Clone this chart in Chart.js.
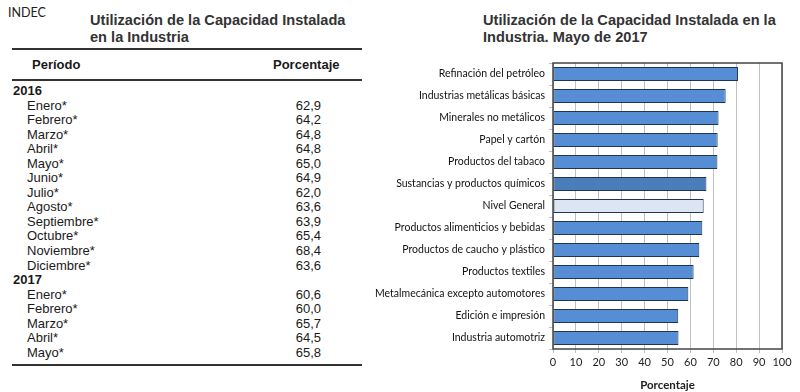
<!DOCTYPE html>
<html><head><meta charset="utf-8">
<script src="https://cdn.jsdelivr.net/npm/chart.js@4.4.1/dist/chart.umd.min.js"></script>
<style>
html,body{margin:0;padding:0;background:#fff;width:800px;height:392px;overflow:hidden;font-family:"Liberation Sans",Arial,sans-serif;color:#1a1a1a}
.abs{position:absolute;white-space:nowrap}
#indec{left:8px;top:5px;font-family:Lato,sans-serif;font-size:12.5px;color:#222}
.title{font-weight:bold;font-size:14.6px;line-height:16.5px;color:#333}
#t1{left:90px;top:12px}
#t2{left:483px;top:12px}
.rule{position:absolute;left:12px;width:350px;background:#333}
#hdr1{left:32px;top:57px;font-weight:bold;font-size:13px}
#hdr2{left:273px;top:57px;font-weight:bold;font-size:13px}
#rows{position:absolute;left:0;top:84px;width:360px;font-size:13px;line-height:14.55px}
.row{position:relative;height:14.55px}
.row .lab{position:absolute;left:27px}
.row .yr{position:absolute;left:13px;font-weight:bold}
.row .val{position:absolute;right:39px}
#chartBox{position:absolute;left:360px;top:0;width:440px;height:392px}
</style></head>
<body>
<div id="indec" class="abs">INDEC</div>
<div id="t1" class="abs title">Utilización de la Capacidad Instalada<br>en la Industria</div>
<div class="rule" style="top:48px;height:2px"></div>
<div id="hdr1" class="abs">Período</div>
<div id="hdr2" class="abs">Porcentaje</div>
<div class="rule" style="top:79px;height:1.5px"></div>
<div id="rows"></div>
<div class="rule" style="top:364px;height:2px"></div>
<div id="t2" class="abs title">Utilización de la Capacidad Instalada en la<br>Industria. Mayo de 2017</div>
<div id="chartBox"><canvas id="c" width="440" height="392"></canvas></div>
<script>
// ---- Table data ----
const years = ['2016', '2017'];
const months2016 = ['Enero*','Febrero*','Marzo*','Abril*','Mayo*','Junio*','Julio*','Agosto*','Septiembre*','Octubre*','Noviembre*','Diciembre*'];
const values2016 = [62.9, 64.2, 64.8, 64.8, 65.0, 64.9, 62.0, 63.6, 63.9, 65.4, 68.4, 63.6];
const months2017 = ['Enero*','Febrero*','Marzo*','Abril*','Mayo*'];
const values2017 = [60.6, 60.0, 65.7, 64.5, 65.8];

// ---- Chart data ----
const sectors = ['Refinación del petróleo','Industrias metálicas básicas','Minerales no metálicos','Papel y cartón','Productos del tabaco','Sustancias y productos químicos','Nivel General','Productos alimenticios y bebidas','Productos de caucho y plástico','Productos textiles','Metalmecánica excepto automotores','Edición e impresión','Industria automotriz'];
const utilization = [80.8, 75.4, 72.3, 71.9, 71.8, 67.0, 65.8, 65.2, 63.9, 61.4, 59.1, 54.7, 54.8];
const xTicks = [0,10,20,30,40,50,60,70,80,90,100];

const fmt = v => v.toFixed(1).replace('.', ',');
const rowsEl = document.getElementById('rows');
function addYear(y){ const d=document.createElement('div'); d.className='row'; d.innerHTML='<span class="yr">'+y+'</span>'; rowsEl.appendChild(d); }
function addRow(m,v){ const d=document.createElement('div'); d.className='row'; d.innerHTML='<span class="lab">'+m+'</span><span class="val">'+fmt(v)+'</span>'; rowsEl.appendChild(d); }
addYear(years[0]); months2016.forEach((m,i)=>addRow(m,values2016[i]));
addYear(years[1]); months2017.forEach((m,i)=>addRow(m,values2017[i]));

const barColors = sectors.map(s => s==='Nivel General' ? '#dce6f2' : (s==='Sustancias y productos químicos' ? '#4a7ebb' : '#558ed5'));

const frame = {id:'frame', afterDatasetsDraw(c){const a=c.chartArea,ctx=c.ctx;ctx.save();ctx.strokeStyle='#444';ctx.lineWidth=1.5;ctx.strokeRect(a.left,a.top,a.right-a.left,a.bottom-a.top);ctx.restore();}};

new Chart(document.getElementById('c'), {
  type:'bar',
  data:{labels:sectors, datasets:[{data:utilization, backgroundColor:barColors, borderColor:'#1f3552', borderWidth:1, borderSkipped:false, barPercentage:0.63, categoryPercentage:1}]},
  options:{
    indexAxis:'y', responsive:false, animation:false, devicePixelRatio:1,
    layout:{padding:{top:63,right:18,left:0,bottom:0}},
    plugins:{legend:{display:false}, tooltip:{enabled:false}},
    scales:{
      x:{min:0,max:100,
        afterBuildTicks(s){ s.ticks = xTicks.map(v=>({value:v})); },
        afterFit(s){ s.height = 43; },
        ticks:{font:{family:'Lato',size:11},color:'#222',padding:3,maxRotation:0,minRotation:0,autoSkip:false},
        grid:{color:'#c0c0c0',tickLength:4,lineWidth:1},
        border:{display:false},
        title:{display:true,text:'Porcentaje',font:{family:'Lato',size:11.5,weight:'bold'},color:'#222',padding:{top:3,bottom:0}}
      },
      y:{
        afterFit(s){ s.width = 193; },
        ticks:{font:{family:'Lato',size:10.5},color:'#111',padding:4},
        grid:{drawOnChartArea:false,tickLength:4,color:'#c0c0c0',offset:true},
        border:{display:false}
      }
    }
  },
  plugins:[frame]
});
</script>
</body></html>
